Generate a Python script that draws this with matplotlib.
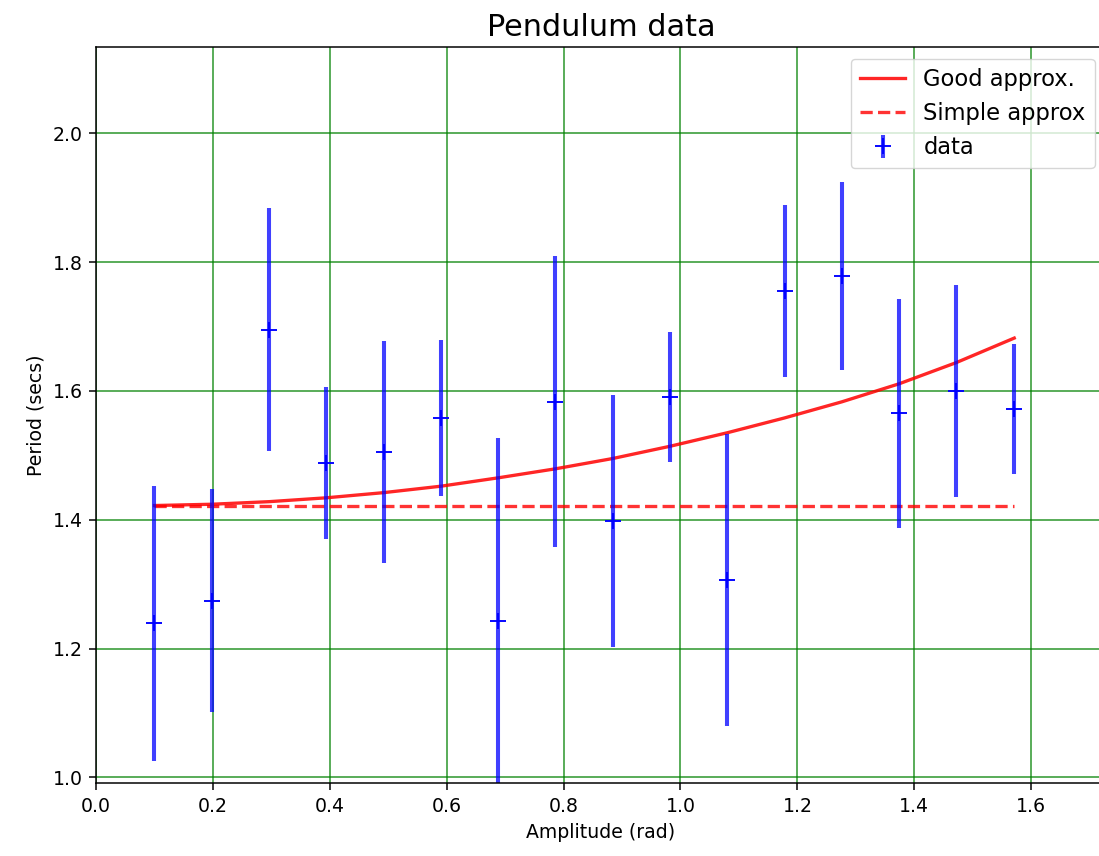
import numpy as np
import matplotlib
matplotlib.use("Agg")
import matplotlib.pyplot as plt

# ---- data ----
amplitude = [0.100, 0.198, 0.296, 0.394, 0.492, 0.590, 0.688, 0.786,
             0.884, 0.982, 1.080, 1.178, 1.276, 1.374, 1.472, 1.571]
period = [1.239, 1.274, 1.695, 1.488, 1.505, 1.558, 1.242, 1.583,
          1.398, 1.590, 1.306, 1.755, 1.779, 1.565, 1.600, 1.572]
period_err = [0.213, 0.173, 0.189, 0.118, 0.173, 0.121, 0.285, 0.226,
              0.195, 0.101, 0.227, 0.133, 0.146, 0.178, 0.165, 0.101]
good_approx = [1.422, 1.424, 1.428, 1.434, 1.442, 1.452, 1.465, 1.479,
               1.495, 1.514, 1.535, 1.558, 1.583, 1.611, 1.644, 1.682]
simple_approx = [1.422, 1.422, 1.422, 1.422, 1.422, 1.422, 1.422, 1.422,
                 1.422, 1.422, 1.422, 1.422, 1.422, 1.422, 1.422, 1.422]
xticks = [0.0, 0.2, 0.4, 0.6, 0.8, 1.0, 1.2, 1.4, 1.6]
yticks = [1.0, 1.2, 1.4, 1.6, 1.8, 2.0]

S = 1.36  # scale factor (reference rendered at higher dpi)
plt.rcParams.update({
    "font.family": ["DejaVu Sans"],
    "font.size": 10 * S,
    "axes.linewidth": 0.8 * S,
    "xtick.major.size": 3.5 * S,
    "ytick.major.size": 3.5 * S,
    "xtick.major.width": 0.8 * S,
    "ytick.major.width": 0.8 * S,
    "xtick.major.pad": 3.5 * S,
    "ytick.major.pad": 3.5 * S,
    "axes.labelpad": 4 * S,
})

fig = plt.figure(figsize=(10.99, 8.56), dpi=100)
ax = fig.add_axes([96 / 1099, (856 - 783.3) / 856, (1106 - 96) / 1099, (783.3 - 47.3) / 856])

ax.plot(amplitude, good_approx, "-", color="red", lw=1.75 * S, alpha=0.85, label="Good approx.")
ax.plot(amplitude, simple_approx, "--", color="red", lw=1.75 * S, alpha=0.8, label="Simple approx")
ax.errorbar(amplitude, period, yerr=period_err, fmt="+", color="blue",
            ecolor=(0, 0, 1, 0.75), elinewidth=2.15 * S, markersize=8 * S,
            markeredgewidth=1.0 * S, label="data")

ax.grid(True, color="green", alpha=0.7, lw=0.8 * S * 1.2)
ax.set_xlim(0, 1.728)
ax.set_ylim(0.9907, 2.1335)
ax.set_xticks(xticks)
ax.set_yticks(yticks)
ax.set_xlabel("Amplitude (rad)")
ax.set_ylabel("Period (secs)")
ax.set_title("Pendulum data", fontsize=16 * S, pad=6 * S)
ax.legend(loc="upper right", fontsize=12 * S, handlelength=2.0, labelspacing=0.5)

fig.savefig("out.png", dpi=100)
